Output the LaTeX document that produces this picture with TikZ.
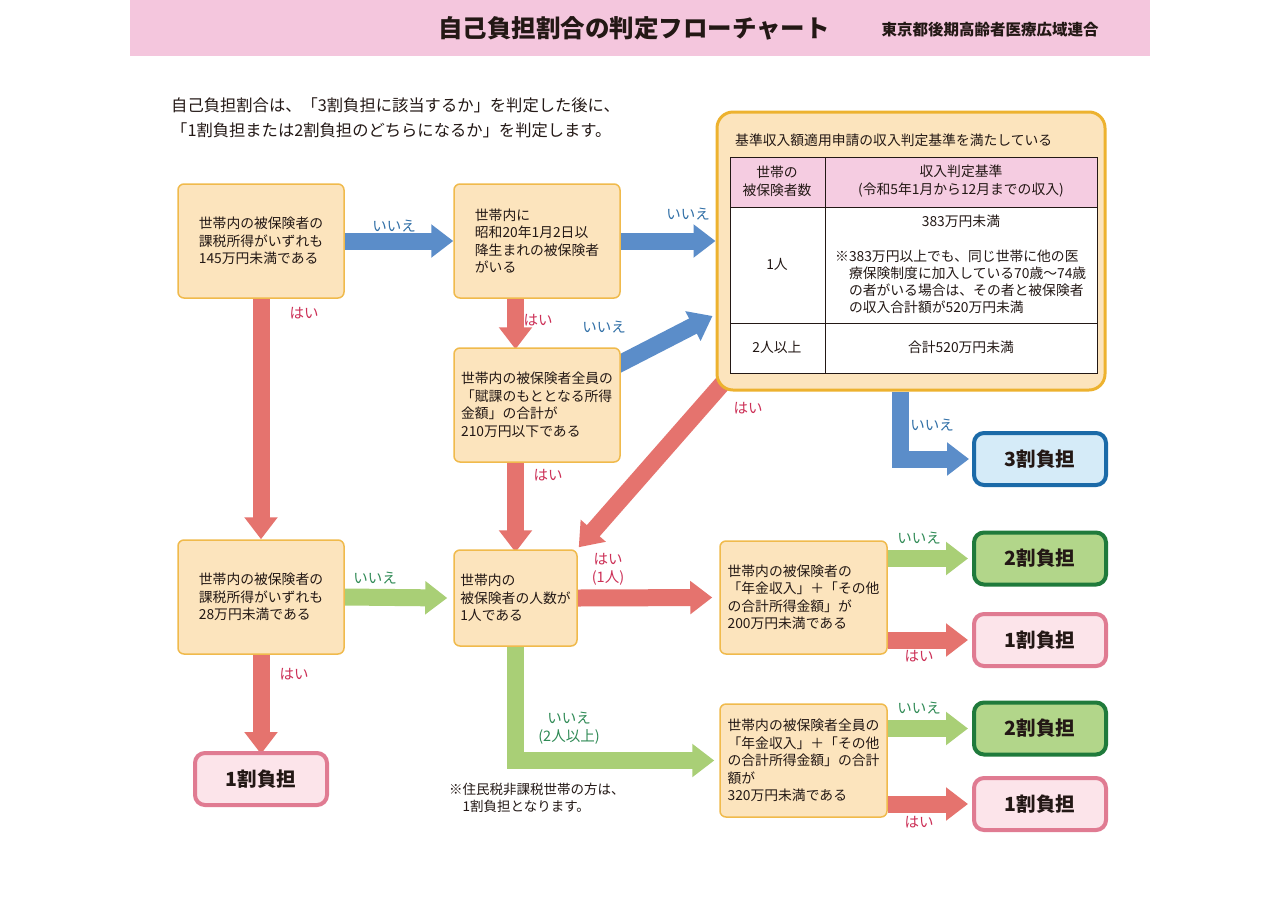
\documentclass[tikz,border=0pt]{standalone}
\usepackage{fontspec}
\setmainfont{Noto Sans CJK JP}
\usetikzlibrary{arrows.meta,calc,backgrounds}

\definecolor{ink}{HTML}{231815}
\definecolor{hdrpink}{HTML}{F4C6DD}
\definecolor{tblpink}{HTML}{F5CCE1}
\definecolor{boxfill}{HTML}{FCE4BD}
\definecolor{boxline}{HTML}{F0BA4C}
\definecolor{bigline}{HTML}{EDB22F}
\definecolor{arrblue}{HTML}{5B8DC9}
\definecolor{arrred}{HTML}{E5736E}
\definecolor{arrgreen}{HTML}{A9CF76}
\definecolor{txtblue}{HTML}{2F6EA6}
\definecolor{txtred}{HTML}{CC2F56}
\definecolor{txtgreen}{HTML}{2F8A55}
\definecolor{rthreefill}{HTML}{D5EBF8}
\definecolor{rthreeline}{HTML}{1B6AA8}
\definecolor{rtwofill}{HTML}{B2D68A}
\definecolor{rtwoline}{HTML}{1F7A3B}
\definecolor{ronefill}{HTML}{FCE4EA}
\definecolor{roneline}{HTML}{E07B92}

\newcommand\boxfont{\fontsize{13.8}{17.5}\selectfont}
\newcommand\lblfont{\fontsize{14.5}{18}\selectfont}

\tikzset{
  qbox/.style={draw=boxline, fill=boxfill, line width=1.5, rounded corners=6,
    align=left, inner sep=0, text=ink, font=\boxfont,
    minimum width=166, minimum height=114},
  rbox/.style={line width=4, rounded corners=10, minimum width=132,
    minimum height=52, text=ink, font=\bfseries\fontsize{19.5}{22}\selectfont},
  rthree/.style={rbox, draw=rthreeline, fill=rthreefill},
  rtwo/.style={rbox, draw=rtwoline, fill=rtwofill},
  rone/.style={rbox, draw=roneline, fill=ronefill},
  tcell/.style={inner sep=0, align=center, text=ink, font=\boxfont},
  blk/.style={line width=17, -{Triangle[width=32pt,length=22pt]}},
  barr/.style={blk, draw=arrblue},
  rarr/.style={blk, draw=arrred},
  garr/.style={blk, draw=arrgreen},
  lbl/.style={inner sep=0, align=center, font=\lblfont},
  lblb/.style={lbl, text=txtblue},
  lblr/.style={lbl, text=txtred},
  lblg/.style={lbl, text=txtgreen}
}

\begin{document}
\begin{tikzpicture}[x=1pt, y=-1pt]
\useasboundingbox (0,0) rectangle (1280,906);

% header band
\fill[hdrpink] (130,0) rectangle (1150,56);
\node[text=ink, font=\bfseries\fontsize{24.5}{28}\selectfont] (title) at (634,28) {自己負担割合の判定フローチャート};
\node[text=ink, font=\bfseries\fontsize{15.5}{18}\selectfont] (org) at (990,30) {東京都後期高齢者医療広域連合};

\node[anchor=west, align=left, inner sep=0, text=ink, font=\fontsize{16.3}{25}\selectfont] (intro) at (171,117.5)
  {自己負担割合は、「3割負担に該当するか」を判定した後に、\\「1割負担または2割負担のどちらになるか」を判定します。};

% question boxes
\node[qbox] (A) at (261,241) {世帯内の被保険者の\\課税所得がいずれも\\145万円未満である};
\node[qbox] (B) at (537,241) {世帯内に\\昭和20年1月2日以\\降生まれの被保険者\\がいる};
\node[qbox] (C) at (537,405) {世帯内の被保険者全員の\\「賦課のもととなる所得\\金額」の合計が\\210万円以下である};
\node[qbox] (E) at (261,597) {世帯内の被保険者の\\課税所得がいずれも\\28万円未満である};
\node[qbox, minimum width=123, minimum height=96] (F) at (515.5,598) {世帯内の\\被保険者の人数が\\1人である};
\node[qbox, minimum width=167, minimum height=113] (G) at (803.5,597.5) {世帯内の被保険者の\\「年金収入」＋「その他\\の合計所得金額」が\\200万円未満である};
\node[qbox, minimum width=167, minimum height=113] (H) at (803.5,760.5) {世帯内の被保険者全員の\\「年金収入」＋「その他\\の合計所得金額」の合計\\額が\\320万円未満である};

% income criteria box with its table
\node[draw=bigline, fill=boxfill, line width=3, rounded corners=16, minimum width=388, minimum height=278] (D) at (911,251) {};
\node[anchor=west, tcell] (Dhead) at (735,140) {基準収入額適用申請の収入判定基準を満たしている};
\fill[white] (730,157) rectangle (1097,373);
\fill[tblpink] (730,157) rectangle (1097,207);
\draw[ink, line width=1] (730,157) rectangle (1097,373)
  (825,157) -- (825,373) (730,207) -- (1097,207) (730,323) -- (1097,323);
\node[tcell, font=\fontsize{13.8}{18}\selectfont] (h1) at (777,181) {世帯の\\被保険者数};
\node[tcell, font=\fontsize{13.8}{18}\selectfont] (h2) at (961,181) {収入判定基準\\(令和5年1月から12月までの収入)};
\node[tcell] (one) at (777,264) {1人};
\node[tcell] (oneA) at (961,221) {383万円未満};
\node[tcell, anchor=west, align=left, font=\fontsize{13.8}{17}\selectfont] (oneB) at (835,282)
  {※383万円以上でも、同じ世帯に他の医\\\phantom{※}療保険制度に加入している70歳～74歳\\\phantom{※}の者がいる場合は、その者と被保険者\\\phantom{※}の収入合計額が520万円未満};
\node[tcell] (two) at (777,347) {2人以上};
\node[tcell] (twoA) at (961,347) {合計520万円未満};

% results
\node[rthree] (R3) at (1040,459) {3割負担};
\node[rtwo] (R2a) at (1040,558.5) {2割負担};
\node[rone] (R1a) at (1040,640) {1割負担};
\node[rtwo] (R2b) at (1040,728.5) {2割負担};
\node[rone] (R1b) at (1040,804) {1割負担};
\node[rone] (R1c) at (261,779) {1割負担};

\node[anchor=west, align=left, inner sep=0, text=ink, font=\fontsize{13.5}{16.5}\selectfont] (note) at (449,798)
  {※住民税非課税世帯の方は、\\\phantom{※}1割負担となります。};

% arrows
\begin{scope}[on background layer]
\fill[white] (0,0) rectangle (1280,906);
\draw[barr] (A.east) -- (B.west);
\draw[barr] (B.east) -- (B.east -| D.west);
\draw[rarr] (A.south) -- (E.north);
\draw[rarr] (F.north |- B.south) -- ([yshift=-2]F.north |- C.north);
\draw[barr] ($(C.north east)+(-4,18)$) -- ($(D.west)+(-3,65)$);
\draw[rarr] (F.north |- C.south) -- ([yshift=-3]F.north);
\draw[rarr] ($(D.south west)+(14,-16)$) -- ($(F.north east)+(1,-2)$);
\draw[barr] ($(D.south)+(-11,0)$) |- ([xshift=-3]R3.west);
\draw[garr] (E.east) -- ([xshift=-6]F.west);
\draw[rarr] (E.south) -- ([yshift=-3]R1c.north);
\draw[rarr] (F.east) -- ([xshift=-7]G.west);
\draw[garr] (F.south) |- ([xshift=-5]H.west);
\draw[garr] (G.east |- R2a.west) -- ([xshift=-4]R2a.west);
\draw[rarr] (G.east |- R1a.west) -- ([xshift=-4]R1a.west);
\draw[garr] (H.east |- R2b.west) -- ([xshift=-4]R2b.west);
\draw[rarr] (H.east |- R1b.west) -- ([xshift=-4]R1b.west);
\end{scope}

% arrow labels
\node[lblb] (nAB) at (394,226) {いいえ};
\node[lblb] (nBD) at (688,214) {いいえ};
\node[lblr] (nAE) at (304,313) {はい};
\node[lblr] (nBC) at (538,320) {はい};
\node[lblb] (nCD) at (604,327) {いいえ};
\node[lblr] (nCF) at (548,475) {はい};
\node[lblr] (nDF) at (748,408) {はい};
\node[lblb] (nD3) at (932,425) {いいえ};
\node[lblg] (nEF) at (375,578) {いいえ};
\node[lblr] (nE1) at (294,674) {はい};
\node[lblr, font=\fontsize{14.5}{18}\selectfont] (nFG) at (608,569) {はい\\(1人)};
\node[lblg, font=\fontsize{14.5}{18}\selectfont] (nFH) at (569,728) {いいえ\\(2人以上)};
\node[lblg] (nG2) at (919,538) {いいえ};
\node[lblr] (nG1) at (919,656) {はい};
\node[lblg] (nH2) at (919,708) {いいえ};
\node[lblr] (nH1) at (919,822) {はい};
\end{tikzpicture}
\end{document}
